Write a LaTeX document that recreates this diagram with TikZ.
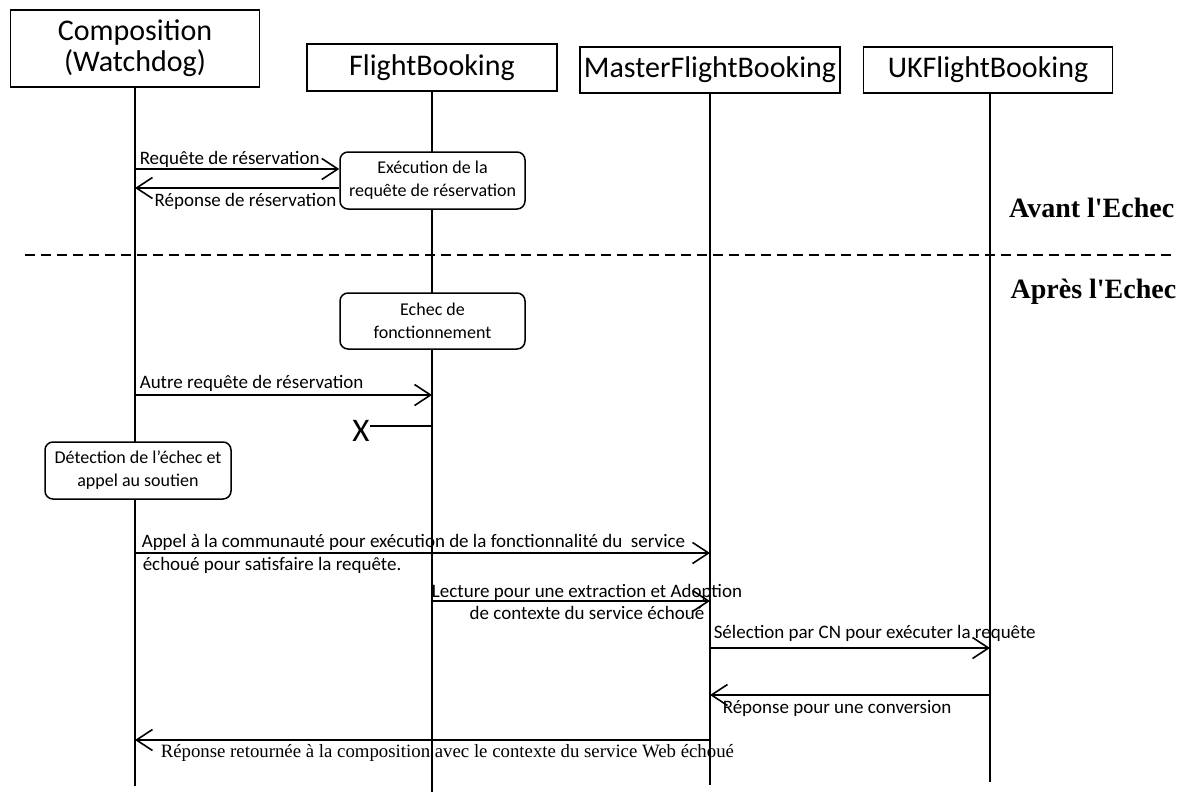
\documentclass[tikz,border=0pt]{standalone}
\usepackage{fontspec}
\setmainfont{Carlito}
\newfontfamily\timesfont{Liberation Serif}
\usetikzlibrary{arrows.meta}

\begin{document}
\begin{tikzpicture}[x=1pt, y=-1pt, line width=1.5pt,
  header/.style={draw, fill=white, inner sep=0pt, align=center,
    font=\fontsize{30}{31}\selectfont},
  activity/.style={draw, fill=white, rounded corners=8pt, inner sep=0pt,
    align=center, minimum width=185pt, minimum height=57pt,
    font=\fontsize{18}{23}\selectfont},
  lifeline/.style={line width=1.5pt},
  msg/.style={line width=1.6pt,
    -{Straight Barb[length=16pt, width=21pt, line width=1.6pt]}},
  lbl/.style={inner sep=0pt, font=\fontsize{19}{22}\selectfont},
  phase/.style={inner sep=0pt, font=\timesfont\bfseries\fontsize{28}{30}\selectfont}]

\useasboundingbox (0,0) rectangle (1183,792);

% participants
\node[header, minimum width=249pt, minimum height=77pt] (comp) at (135,48.5)
  {Composition\\(Watchdog)};
\node[header, minimum width=250pt, minimum height=47pt] (fb) at (432,67.5) {FlightBooking};
\node[header, minimum width=260pt, minimum height=46pt] (mfb) at (710,70) {MasterFlightBooking};
\node[header, minimum width=249pt, minimum height=46pt] (uk) at (988,70) {UKFlightBooking};

% lifeline ends
\coordinate (compEnd) at (135,786);
\coordinate (fbEnd) at (432,792);
\coordinate (mfbEnd) at (710,785);
\coordinate (ukEnd) at (990,782);

\draw[lifeline] (comp.south) -- (compEnd);
\draw[lifeline] (fb.south) -- (fbEnd);
\draw[lifeline] (mfb.south) -- (mfbEnd);
\draw[lifeline] (uk.south -| ukEnd) -- (ukEnd);

% activities
\node[activity] (exec) at (432.5,180.5) {Exécution de la\\requête de réservation};
\node[activity, minimum height=56pt] (fail) at (432.5,321) {Echec de\\fonctionnement};
\node[activity, minimum width=186pt] (detect) at (138,470.5) {Détection de l’échec et\\appel au soutien};

% separation between the two phases
\coordinate (sepL) at (25,255);
\coordinate (sepR) at (1172,255);
\draw[line width=1.3pt, dash pattern=on 10pt off 6pt] (sepL) -- (sepR);
\node[phase, anchor=east] (before) at (1175,208) {Avant l'Echec};
\node[phase, anchor=east] (after) at (1177,292) {Après l'Echec};

% messages
\coordinate (m1) at (135,169);
\draw[msg] (m1) -- (m1 -| exec.west);
\node[lbl, anchor=base west] (l1) at (139,164) {Requête de réservation};

\coordinate (m2) at (135,188);
\draw[msg] (m2 -| exec.west) -- (m2);
\node[lbl, anchor=base east] (l2) at (337,206) {Réponse de réservation};

\coordinate (m3) at (135,395);
\draw[msg] (m3) -- (m3 -| fbEnd);
\node[lbl, anchor=base west] (l3) at (139,388) {Autre requête de réservation};

\node[inner sep=0pt, font=\fontsize{33}{33}\selectfont] (xm) at (361,431) {X};
\coordinate (m4) at (432,426);
\draw[line width=1.6pt] (m4) -- (m4 -| xm.east);

\coordinate (m5) at (135,553);
\draw[msg] (m5) -- (m5 -| mfbEnd);
\node[lbl, anchor=base west] (l5a) at (141,547)
  {Appel à la communauté pour exécution de la fonctionnalité du\ \ service};
\node[lbl, anchor=base west] (l5b) at (142,570) {échoué pour satisfaire la requête.};

\coordinate (m6) at (432,601);
\draw[msg] (m6) -- (m6 -| mfbEnd);
\node[lbl, anchor=base] (l6a) at (587,597) {Lecture pour une extraction et Adoption};
\node[lbl, anchor=base] (l6b) at (587,619) {de contexte du service échoué};

\coordinate (m7) at (710,648);
\draw[msg] (m7) -- (m7 -| ukEnd);
\node[lbl, anchor=base west] (l7) at (713,638) {Sélection par CN pour exécuter la requête};

\coordinate (m8) at (710,695);
\draw[msg] (m8 -| ukEnd) -- (m8);
\node[lbl, anchor=base west] (l8) at (722,713) {Réponse pour une conversion};

\coordinate (m9) at (135,740);
\draw[msg] (m9 -| mfbEnd) -- (m9);
\node[inner sep=0pt, anchor=base west, font=\timesfont\fontsize{18.8}{20}\selectfont] (l9) at (160,757)
  {Réponse retournée à la composition avec le contexte du service Web échoué};

\end{tikzpicture}
\end{document}
